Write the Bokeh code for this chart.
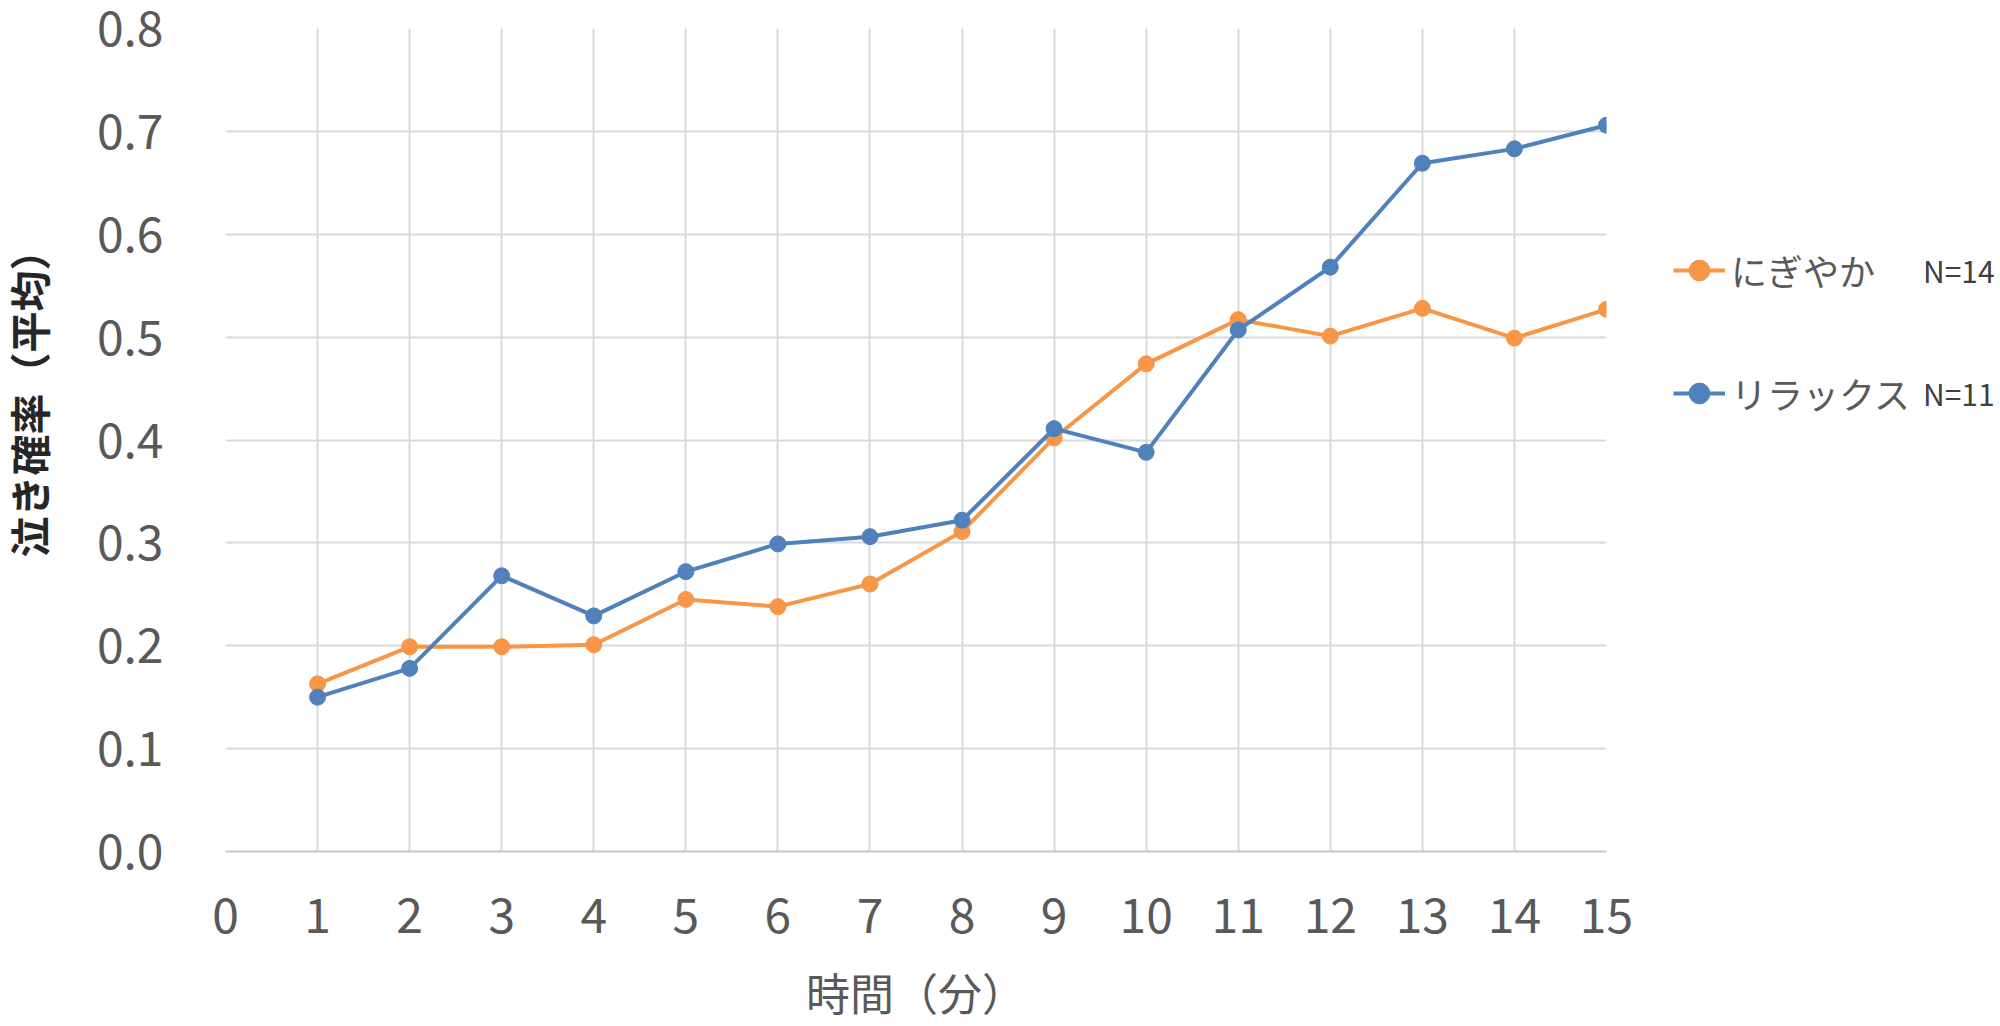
import math
from bokeh.plotting import figure
from bokeh.layouts import row
from bokeh.models import (ColumnDataSource, FixedTicker, PrintfTickFormatter,
                          Legend, LegendItem, Range1d, Label)
from bokeh.embed import file_html
from bokeh.resources import INLINE

# ---- data ----
minutes = [1, 2, 3, 4, 5, 6, 7, 8, 9, 10, 11, 12, 13, 14, 15]
nigiyaka = [0.163, 0.199, 0.199, 0.201, 0.245, 0.238, 0.260, 0.311, 0.402,
            0.474, 0.517, 0.501, 0.528, 0.499, 0.527]
relax = [0.150, 0.178, 0.268, 0.229, 0.272, 0.299, 0.306, 0.322, 0.411,
         0.388, 0.507, 0.568, 0.669, 0.683, 0.706]
series_names = ["にぎやか", "リラックス"]
series_n = ["N=14", "N=11"]
x_ticks = list(range(0, 16))
y_ticks = [0.0, 0.1, 0.2, 0.3, 0.4, 0.5, 0.6, 0.7, 0.8]
x_title = "時間（分）"
y_title = "泣き確率（平均）"

ORANGE = "#F79646"
BLUE = "#4F81BD"
TXT = "#595959"
GRID = "#d9d9d9"
FONT = "Noto Sans CJK JP"
H = 1026
FRAME_TOP = 28
FRAME_BOTTOM = 863
W0 = 56            # left strip (y title)
W2 = 360           # right strip (legend)
W1 = 2000 - W0 - W2


def bare(fig):
    fig.outline_line_color = None
    fig.background_fill_color = "white"
    fig.border_fill_color = "white"
    return fig


src_o = ColumnDataSource(dict(x=minutes, y=nigiyaka))
src_b = ColumnDataSource(dict(x=minutes, y=relax))

# ---- left strip: y-axis title ----
p0 = bare(figure(width=W0, height=H, output_backend="svg", toolbar_location=None,
                 x_range=Range1d(0, 1), y_range=Range1d(0, 1),
                 x_axis_location=None, y_axis_location=None, min_border=0))
p0.grid.visible = False
p0.add_layout(Label(x=27, y=FRAME_BOTTOM - 405, x_units="screen", y_units="screen",
                    text=y_title, text_font=FONT, text_font_size="41px",
                    text_font_style="bold", text_color="#262626",
                    text_line_height=1.0,
                    angle=math.pi / 2, text_align="center", text_baseline="middle"))

# ---- main chart ----
p = bare(figure(width=W1, height=H, output_backend="svg", toolbar_location=None,
                x_range=Range1d(0, 15), y_range=Range1d(0, 0.8),
                min_border_left=225 - W0, min_border_right=34,
                min_border_top=FRAME_TOP, min_border_bottom=H - FRAME_BOTTOM))

p.xgrid.ticker = FixedTicker(ticks=x_ticks)
p.ygrid.ticker = FixedTicker(ticks=y_ticks)
for g in (p.xgrid, p.ygrid):
    g.grid_line_color = GRID
    g.grid_line_width = 2

p.xaxis.ticker = FixedTicker(ticks=x_ticks)
p.yaxis.ticker = FixedTicker(ticks=y_ticks)
p.yaxis.formatter = PrintfTickFormatter(format="%.1f")
for ax in (p.xaxis, p.yaxis):
    ax.major_tick_in = 0
    ax.major_tick_out = 0
    ax.minor_tick_in = 0
    ax.minor_tick_out = 0
    ax.major_label_text_font = FONT
    ax.major_label_text_font_size = "48px"
    ax.major_label_text_color = TXT
p.xaxis.axis_line_color = "#c8c8c8"
p.xaxis.axis_line_width = 2
p.yaxis.axis_line_color = None
p.xaxis.major_label_standoff = 46
p.yaxis.major_label_standoff = 62

p.xaxis.axis_label = x_title
p.xaxis.axis_label_text_font = FONT
p.xaxis.axis_label_text_font_size = "44px"
p.xaxis.axis_label_text_font_style = "normal"
p.xaxis.axis_label_text_color = TXT
p.xaxis.axis_label_text_line_height = 1.0
p.xaxis.axis_label_standoff = 24

lo = p.line("x", "y", source=src_o, line_color=ORANGE, line_width=4)
so = p.scatter("x", "y", source=src_o, size=16, fill_color=ORANGE, line_color=ORANGE)
lb = p.line("x", "y", source=src_b, line_color=BLUE, line_width=4)
sb = p.scatter("x", "y", source=src_b, size=16, fill_color=BLUE, line_color=BLUE)

# ---- right strip: legend ----
# the strip's ranges lie away from the data, so its proxy renderers only
# lend their styles to the legend and draw nothing themselves
p2 = bare(figure(width=W2, height=H, output_backend="svg",
                 toolbar_location=None, x_range=Range1d(-2, -1), y_range=Range1d(-2, -1),
                 x_axis_location=None, y_axis_location=None, min_border=0))
p2.grid.visible = False
k_lo = p2.line("x", "y", source=src_o, line_color=ORANGE, line_width=4)
k_so = p2.scatter("x", "y", source=src_o, size=16, fill_color=ORANGE, line_color=ORANGE)
k_lb = p2.line("x", "y", source=src_b, line_color=BLUE, line_width=4)
k_sb = p2.scatter("x", "y", source=src_b, size=16, fill_color=BLUE, line_color=BLUE)
k_none = p2.scatter("x", "y", source=src_o, size=1, fill_alpha=0, line_alpha=0)

common = dict(orientation="vertical", padding=0, margin=0,
              border_line_color=None, background_fill_alpha=0,
              glyph_height=60, label_height=60, spacing=63)

legend = Legend(items=[LegendItem(label=series_names[0], renderers=[k_lo, k_so]),
                       LegendItem(label=series_names[1], renderers=[k_lb, k_sb])],
                location=(33, FRAME_BOTTOM - 435), glyph_width=52, label_standoff=6,
                label_text_font=FONT, label_text_font_size="36px",
                label_text_color=TXT, **common)
p2.add_layout(legend, "center")

legend_n = Legend(items=[LegendItem(label=series_n[0], renderers=[k_none]),
                         LegendItem(label=series_n[1], renderers=[k_none])],
                  location=(279, FRAME_BOTTOM - 435), glyph_width=4, label_standoff=0,
                  label_text_font=FONT, label_text_font_size="30px",
                  label_text_color="#404040", **common)
p2.add_layout(legend_n, "center")

layout = row(p0, p, p2, spacing=0)
open("out.html", "w").write(file_html(layout, INLINE))
